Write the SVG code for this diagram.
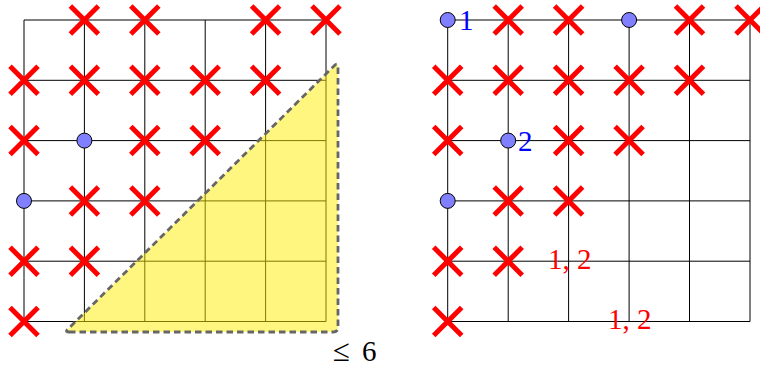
<svg xmlns="http://www.w3.org/2000/svg" xmlns:xlink="http://www.w3.org/1999/xlink" width="760" height="367" viewBox="0 0 760 367">
<style>
.grid{stroke:#000;stroke-width:1;fill:none}
.cross{stroke:#ff0000;stroke-width:5;fill:none}
.dot{fill:#8080ff;stroke:#000;stroke-width:1}
</style>
<defs>
<path id="x" class="cross" d="M-14,-14L14,14M-14,14L14,-14"/>
</defs>
<rect width="760" height="367" fill="#fff"/>
<g id="leftGrid" class="grid">
<path d="M24,20H326M24,80.3H326M24,140.6H326M24,200.9H326M24,261.2H326M24,321.5H326"/>
<path d="M24,20V321.5M84.4,20V321.5M144.8,20V321.5M205.2,20V321.5M265.6,20V321.5M326,20V321.5"/>
</g>
<g id="region">
<path d="M69,332 L333,332 Q338,332 338,327 L338,67 Q338,62 334.5,65.5 L67,330 Q65.5,332 69,332 Z" fill="#ffee00" fill-opacity="0.5" stroke="#666" stroke-width="2.8" stroke-dasharray="6.5 4"/>
<text font-family="Liberation Serif, DejaVu Serif, serif" font-size="29" fill="#000" y="361"><tspan x="333" font-size="31">≤</tspan><tspan x="362">6</tspan></text>
</g>
<g id="leftMarks">
<use xlink:href="#x" x="84.4" y="20"/><use xlink:href="#x" x="144.8" y="20"/><use xlink:href="#x" x="265.6" y="20"/><use xlink:href="#x" x="326" y="20"/>
<use xlink:href="#x" x="24" y="80.3"/><use xlink:href="#x" x="84.4" y="80.3"/><use xlink:href="#x" x="144.8" y="80.3"/><use xlink:href="#x" x="205.2" y="80.3"/><use xlink:href="#x" x="265.6" y="80.3"/>
<use xlink:href="#x" x="24" y="140.6"/><circle class="dot" cx="84.4" cy="140.6" r="7.5"/><use xlink:href="#x" x="144.8" y="140.6"/><use xlink:href="#x" x="205.2" y="140.6"/>
<circle class="dot" cx="24" cy="200.9" r="7.5"/><use xlink:href="#x" x="84.4" y="200.9"/><use xlink:href="#x" x="144.8" y="200.9"/>
<use xlink:href="#x" x="24" y="261.2"/><use xlink:href="#x" x="84.4" y="261.2"/>
<use xlink:href="#x" x="24" y="321.5"/>
</g>
<g id="rightGrid" class="grid">
<path d="M447.7,20H750M447.7,80.3H750M447.7,140.6H750M447.7,200.9H750M447.7,261.2H750M447.7,321.5H750"/>
<path d="M447.7,20V321.5M508.2,20V321.5M568.6,20V321.5M629.1,20V321.5M689.5,20V321.5M750,20V321.5"/>
</g>
<g id="rightMarks">
<circle class="dot" cx="447.7" cy="20" r="7.5"/><use xlink:href="#x" x="508.2" y="20"/><use xlink:href="#x" x="568.6" y="20"/><circle class="dot" cx="629.1" cy="20" r="7.5"/><use xlink:href="#x" x="689.5" y="20"/><use xlink:href="#x" x="750" y="20"/>
<use xlink:href="#x" x="447.7" y="80.3"/><use xlink:href="#x" x="508.2" y="80.3"/><use xlink:href="#x" x="568.6" y="80.3"/><use xlink:href="#x" x="629.1" y="80.3"/><use xlink:href="#x" x="689.5" y="80.3"/>
<use xlink:href="#x" x="447.7" y="140.6"/><circle class="dot" cx="508.2" cy="140.6" r="7.5"/><use xlink:href="#x" x="568.6" y="140.6"/><use xlink:href="#x" x="629.1" y="140.6"/>
<circle class="dot" cx="447.7" cy="200.9" r="7.5"/><use xlink:href="#x" x="508.2" y="200.9"/><use xlink:href="#x" x="568.6" y="200.9"/>
<use xlink:href="#x" x="447.7" y="261.2"/><use xlink:href="#x" x="508.2" y="261.2"/>
<use xlink:href="#x" x="447.7" y="321.5"/>
<text font-family="Liberation Serif, DejaVu Serif, serif" font-size="29" fill="#0000ff" x="459" y="30">1</text>
<text font-family="Liberation Serif, DejaVu Serif, serif" font-size="29" fill="#0000ff" x="518" y="151">2</text>
<text font-family="Liberation Serif, DejaVu Serif, serif" font-size="29" fill="#ff0000" x="548" y="269">1, 2</text>
<text font-family="Liberation Serif, DejaVu Serif, serif" font-size="29" fill="#ff0000" x="608" y="329">1, 2</text>
</g>
</svg>
